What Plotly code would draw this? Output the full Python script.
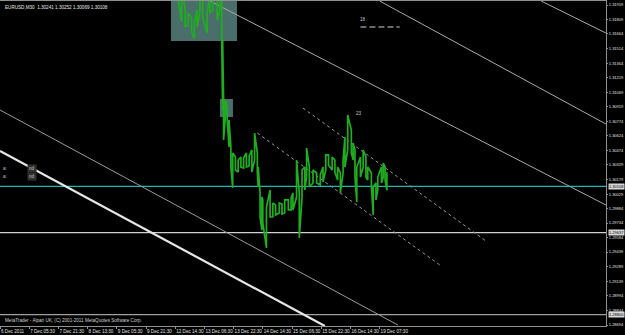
import plotly.graph_objects as go

# ---- price samples (bar index, high, low) ----
bar_idx = [190, 195, 199, 203, 206, 210, 213, 216, 219, 222, 227, 230, 233, 238, 241, 243, 244, 245, 247, 249,
           251, 253, 255, 258, 261, 264, 267, 270, 273, 276, 279, 282, 283, 285, 287, 288, 292, 296, 299, 302,
           306, 309, 312, 316, 319, 321, 325, 328, 331, 334, 336, 339, 343, 347, 351, 354, 357, 360, 364, 367,
           370, 373, 376, 378, 381, 385, 387, 389, 391, 395, 398, 401, 403, 407, 409, 412, 414, 418, 420, 422, 424]
bar_hi = [1.32350, 1.32280, 1.32150, 1.31908, 1.31877, 1.31826, 1.31775, 1.31908, 1.32061, 1.32040,
          1.31877, 1.32060, 1.32090, 1.32010, 1.32040, 1.32010, 1.31602, 1.30990, 1.30990, 1.30918,
          1.30786, 1.30510, 1.30449, 1.30408, 1.30378, 1.30408, 1.30398, 1.30449, 1.30419, 1.30480,
          1.30653, 1.30449, 1.30306, 1.30041, 1.30000, 1.29970, 1.29898, 1.30072, 1.29939, 1.29918,
          1.29939, 1.29929, 1.29970, 1.29970, 1.29990, 1.30041, 1.30378, 1.30041, 1.30276, 1.30306,
          1.30500, 1.30306, 1.30276, 1.30245, 1.30225, 1.30306, 1.30429, 1.30429, 1.30408, 1.30378,
          1.30306, 1.30245, 1.30378, 1.30612, 1.30837, 1.30684, 1.30551, 1.30480, 1.30306, 1.30408,
          1.30480, 1.30408, 1.30306, 1.30245, 1.30102, 1.30143, 1.30204, 1.30306, 1.30347, 1.30306, 1.30252]
bar_lo = [1.32120, 1.32040, 1.31786, 1.31735, 1.31755, 1.31683, 1.31612, 1.31735, 1.31877, 1.31837,
          1.31673, 1.31877, 1.31908, 1.31806, 1.31908, 1.31602, 1.30888, 1.30582, 1.30816, 1.30786,
          1.30510, 1.30306, 1.30092, 1.30276, 1.30255, 1.30306, 1.30296, 1.30306, 1.30317, 1.30255,
          1.30378, 1.30245, 1.30102, 1.29796, 1.29663, 1.29735, 1.29480, 1.29796, 1.29796, 1.29817,
          1.29837, 1.29827, 1.29837, 1.29868, 1.29868, 1.29868, 1.30000, 1.29582, 1.30000, 1.30072,
          1.30204, 1.30102, 1.30143, 1.30143, 1.30123, 1.30153, 1.30276, 1.30327, 1.30276, 1.30255,
          1.30174, 1.30041, 1.30245, 1.30306, 1.30480, 1.30449, 1.30378, 1.30204, 1.29949, 1.30204,
          1.30306, 1.30204, 1.30174, 1.30102, 1.29817, 1.29970, 1.30072, 1.30143, 1.30204, 1.30174, 1.30069]

# ---- axis labels ----
x_tick_bars = [0, 32, 64, 96, 128, 160, 192, 224, 256, 288, 320, 352, 384, 416]
x_tick_text = ["6 Dec 2011", "7 Dec 05:30", "7 Dec 21:30", "8 Dec 13:30", "9 Dec 05:30", "9 Dec 21:30",
               "12 Dec 14:30", "13 Dec 06:30", "13 Dec 22:30", "14 Dec 14:30", "15 Dec 06:30",
               "15 Dec 22:30", "16 Dec 14:30", "19 Dec 07:30"]
y_tick_text = ["1.31959", "1.31809", "1.31664", "1.31514", "1.31364", "1.31219", "1.31069", "1.30919",
               "1.30774", "1.30624", "1.30474", "1.30329", "1.30179", "1.30029", "1.29884", "1.29734",
               "1.29584", "1.29439", "1.29289", "1.29139", "1.28994", "1.28844", "1.28694"]
y_tick_vals = [float(t) for t in y_tick_text]

# ---- objects on chart ----
# solid trend lines: (bar0, price0, bar1, price1)
trend_bar0 = [0, 0, 230, 416, 593]
trend_p0 = [1.30469, 1.30888, 1.32000, 1.32000, 1.32000]
trend_bar1 = [356, 436, 664, 664, 664]
trend_p1 = [1.28684, 1.28694, 1.29918, 1.30745, 1.31673]
trend_width = [2.2, 1, 1, 1, 1]
trend_color = ["#e6e6e6", "#9a9a9a", "#a8a8a8", "#a8a8a8", "#a8a8a8"]
# dotted channel
dot_bar0 = [282, 332]
dot_p0 = [1.30653, 1.30908]
dot_bar1 = [482, 534]
dot_p1 = [1.29306, 1.29541]
# horizontal levels
bid_price = 1.30108
hline_prices = [1.29637, 1.28800]
hline_colors = ["#d0d0d0", "#a0a0a0"]
# rectangles (bar0, bar1, price low, price high)
rect_bar0 = [187.4, 241.0]
rect_bar1 = [259.7, 255.3]
rect_plo = [1.31592, 1.30816]
rect_phi = [1.32000, 1.31000]
# small dashed level near "18"
dash_bars = [395, 438]
dash_price = 1.31735

X_MAX = 664.1
Y_MIN, Y_MAX = 1.28684, 1.32000

fig = go.Figure()

for b0, b1, lo, hi in zip(rect_bar0, rect_bar1, rect_plo, rect_phi):
    fig.add_shape(type="rect", xref="x", yref="y", x0=b0, x1=b1, y0=lo, y1=hi,
                  fillcolor="#4a6e69", line=dict(width=0), layer="below")

for p, c in zip(hline_prices, hline_colors):
    fig.add_trace(go.Scatter(x=[0, X_MAX], y=[p, p], mode="lines",
                             line=dict(color=c, width=1.2), hoverinfo="skip"))
fig.add_trace(go.Scatter(x=[0, X_MAX], y=[bid_price, bid_price], mode="lines",
                         line=dict(color="#1fb5b5", width=1.2), hoverinfo="skip"))

for b0, p0, b1, p1, w, c in zip(trend_bar0, trend_p0, trend_bar1, trend_p1, trend_width, trend_color):
    fig.add_trace(go.Scatter(x=[b0, b1], y=[p0, p1], mode="lines",
                             line=dict(color=c, width=w), hoverinfo="skip"))
for b0, p0, b1, p1 in zip(dot_bar0, dot_p0, dot_bar1, dot_p1):
    fig.add_trace(go.Scatter(x=[b0, b1], y=[p0, p1], mode="lines",
                             line=dict(color="#9a9a9a", width=1, dash="dot"), hoverinfo="skip"))
fig.add_trace(go.Scatter(x=dash_bars, y=[dash_price, dash_price], mode="lines",
                         line=dict(color="#8a8a8a", width=1.5, dash="6px,3px"), hoverinfo="skip"))

# price bars as zig-zag high/low path
xs, ys = [], []
for k, (i, h, l) in enumerate(zip(bar_idx, bar_hi, bar_lo)):
    xs += [i, i]
    ys += [l, h] if k % 2 == 0 else [h, l]
fig.add_trace(go.Scatter(x=xs, y=ys, mode="lines", line=dict(color="#1fae1f", width=1.7),
                         hoverinfo="skip"))

FONT = "Liberation Sans, Arial, sans-serif"
fs = 4.6
fsy = 4.0
fig.update_layout(
    width=625, height=335,
    margin=dict(l=0, r=19, t=1, b=9),
    paper_bgcolor="black", plot_bgcolor="black",
    showlegend=False,
    font=dict(family=FONT, size=fs, color="#e0e0e0"),
    xaxis=dict(range=[0, X_MAX], showgrid=False, zeroline=False, automargin=False,
               tickvals=x_tick_bars, ticktext=x_tick_text, ticks="outside", ticklen=2,
               tickangle=0, tickcolor="#909090", ticklabelposition="outside right",
               tickfont=dict(size=fs, color="#e0e0e0", family=FONT),
               showline=True, linecolor="#909090", linewidth=1, mirror=True),
    yaxis=dict(range=[Y_MIN, Y_MAX], side="right", showgrid=False, zeroline=False, automargin=False,
               tickvals=y_tick_vals, ticktext=y_tick_text, ticks="outside", ticklen=1,
               tickcolor="#909090", tickfont=dict(size=fsy, color="#e0e0e0", family=FONT),
               showline=True, linecolor="#909090", linewidth=1, mirror=True),
)

# highlighted price labels on the axis
for p in [bid_price] + hline_prices:
    fig.add_annotation(x=1.0, xref="paper", y=p, yref="y", xanchor="left", xshift=2,
                       text=f"{p:.5f}", showarrow=False, bgcolor="#d8d8d8", borderpad=0,
                       font=dict(size=fsy, color="black", family=FONT))

fig.add_annotation(x=0, xref="paper", y=1, yref="paper", xanchor="left", yanchor="top",
                   xshift=3, yshift=-2, showarrow=False,
                   text="EURUSD,M30  1.30241 1.30252 1.30069 1.30108",
                   font=dict(size=fs, color="#e8e8e8", family=FONT))
fig.add_annotation(x=0, xref="paper", y=0, yref="paper", xanchor="left", yanchor="bottom",
                   xshift=3, yshift=1, showarrow=False,
                   text="MetaTrader - Alpari UK, (C) 2001-2011 MetaQuotes Software Corp.",
                   font=dict(size=fs, color="#d0d0d0", family=FONT))
fig.add_annotation(x=398, y=1.31816, showarrow=False, text="18",
                   font=dict(size=fs, color="#c8c8c8", family=FONT))
fig.add_annotation(x=393, y=1.30857, showarrow=False, text="23",
                   font=dict(size=fs, color="#c8c8c8", family=FONT))
for yy in [1.30286, 1.30214]:
    fig.add_annotation(x=6, y=yy, showarrow=False, text="a:",
                       font=dict(size=fs, color="#c0c0c0", family=FONT))
    fig.add_annotation(x=35, y=yy, showarrow=False, text="nd", bgcolor="#303030",
                       font=dict(size=fs, color="#c0c0c0", family=FONT))

fig.write_html("out.html", config=dict(displayModeBar=False))
